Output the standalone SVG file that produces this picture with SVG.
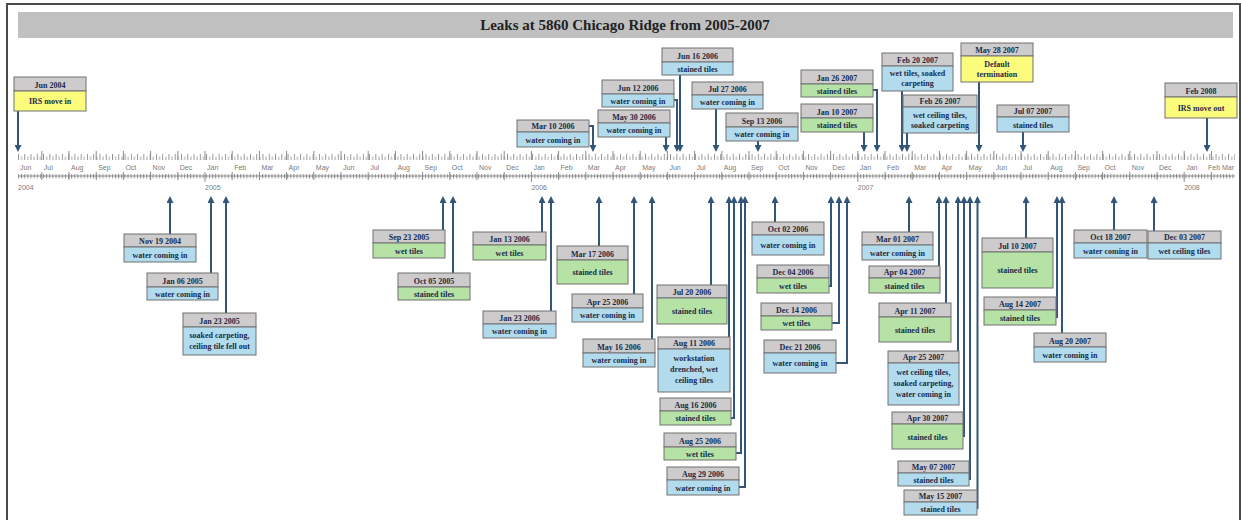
<svg xmlns="http://www.w3.org/2000/svg" width="1241" height="520" viewBox="0 0 1241 520">
<defs>
<style>
.hd{fill:#cdcbcb;stroke:#707070;stroke-width:1}
.bl{fill:#b2dcee;stroke:#707070;stroke-width:1}
.gr{fill:#b6e2a6;stroke:#707070;stroke-width:1}
.yl{fill:#fcfc7c;stroke:#707070;stroke-width:1}
.node text{font-family:"Liberation Serif","Times New Roman",serif;font-weight:bold;font-size:8px;fill:#1b2a48;text-anchor:middle}
.cn{stroke:#34557a;stroke-width:2;fill:none;marker-end:url(#ah)}
.ml{font-family:"Liberation Sans",Arial,sans-serif;font-size:7px;fill:#7a7a7a}
.tk{stroke:#8a8a8a;stroke-width:1;fill:none}
</style>
<marker id="ah" viewBox="0 0 7 7" refX="5" refY="3.5" markerWidth="7" markerHeight="7" markerUnits="userSpaceOnUse" orient="auto">
<path d="M0,0 L7,3.5 L0,7 z" fill="#34557a"/>
</marker>
<pattern id="tp" patternUnits="userSpaceOnUse" x="18" y="0" width="6.27" height="520">
<line x1="0.5" y1="154" x2="0.5" y2="160" stroke="#8a8a8a" stroke-width="0.9"/>
<line x1="3.6" y1="156.5" x2="3.6" y2="160" stroke="#9a9a9a" stroke-width="0.9"/>
</pattern>
<pattern id="rp" patternUnits="userSpaceOnUse" x="18" y="0" width="3.13" height="520">
<line x1="0.5" y1="174" x2="0.5" y2="178.5" stroke="#8a8a8a" stroke-width="0.9"/>
</pattern>
</defs>
<rect x="0" y="0" width="1241" height="520" fill="#ffffff"/>
<rect x="7" y="4" width="1233" height="530" fill="#ffffff" stroke="#4a4a4a" stroke-width="2"/>
<g id="title">
<rect x="18" y="12" width="1215" height="26" fill="#c0c0c0"/>
<text x="625" y="30" font-family="'Liberation Serif','Times New Roman',serif" font-weight="bold" font-size="15" fill="#222" text-anchor="middle">Leaks at 5860 Chicago Ridge from 2005-2007</text>
</g>
<g id="axis">
<rect x="18" y="153" width="1217" height="8" fill="url(#tp)"/>
<rect x="18" y="173" width="1217" height="6" fill="url(#rp)"/>
<line x1="18" y1="176" x2="1235" y2="176" stroke="#8a8a8a" stroke-width="1"/>
<path class="tk" d="M41.8,151V160M69,151V160M96.2,151V160M123.4,151V160M150.6,151V160M177.8,151V160M205,151V160M232.2,151V160M259.4,151V160M286.6,151V160M313.8,151V160M341,151V160M368.2,151V160M395.4,151V160M422.6,151V160M449.8,151V160M477,151V160M504.2,151V160M531.4,151V160M558.6,151V160M585.8,151V160M613,151V160M640.2,151V160M667.4,151V160M694.6,151V160M721.8,151V160M749,151V160M776.2,151V160M803.4,151V160M830.6,151V160M857.8,151V160M885,151V160M912.2,151V160M939.4,151V160M966.6,151V160M993.8,151V160M1021,151V160M1048.2,151V160M1075.4,151V160M1102.6,151V160M1129.8,151V160M1157,151V160M1184.2,151V160M1211.4,151V160"/>
<path class="tk" d="M41.8,172V180M69,172V180M96.2,172V180M123.4,172V180M150.6,172V180M177.8,172V180M205,172V182M232.2,172V180M259.4,172V180M286.6,172V180M313.8,172V180M341,172V180M368.2,172V180M395.4,172V180M422.6,172V180M449.8,172V180M477,172V180M504.2,172V180M531.4,172V182M558.6,172V180M585.8,172V180M613,172V180M640.2,172V180M667.4,172V180M694.6,172V180M721.8,172V180M749,172V180M776.2,172V180M803.4,172V180M830.6,172V180M857.8,172V182M885,172V180M912.2,172V180M939.4,172V180M966.6,172V180M993.8,172V180M1021,172V180M1048.2,172V180M1075.4,172V180M1102.6,172V180M1129.8,172V180M1157,172V180M1184.2,172V182M1211.4,172V180"/>
<g class="ml">
<text x="20" y="170">Jun</text><text x="43.8" y="170">Jul</text><text x="71" y="170">Aug</text><text x="98.2" y="170">Sep</text><text x="125.4" y="170">Oct</text><text x="152.6" y="170">Nov</text><text x="179.8" y="170">Dec</text>
<text x="207" y="170">Jan</text><text x="234.2" y="170">Feb</text><text x="261.4" y="170">Mar</text><text x="288.6" y="170">Apr</text><text x="315.8" y="170">May</text><text x="343" y="170">Jun</text><text x="370.2" y="170">Jul</text><text x="397.4" y="170">Aug</text><text x="424.6" y="170">Sep</text><text x="451.8" y="170">Oct</text><text x="479" y="170">Nov</text><text x="506.2" y="170">Dec</text>
<text x="533.4" y="170">Jan</text><text x="560.6" y="170">Feb</text><text x="587.8" y="170">Mar</text><text x="615" y="170">Apr</text><text x="642.2" y="170">May</text><text x="669.4" y="170">Jun</text><text x="696.6" y="170">Jul</text><text x="723.8" y="170">Aug</text><text x="751" y="170">Sep</text><text x="778.2" y="170">Oct</text><text x="805.4" y="170">Nov</text><text x="832.6" y="170">Dec</text>
<text x="859.8" y="170">Jan</text><text x="887" y="170">Feb</text><text x="914.2" y="170">Mar</text><text x="941.4" y="170">Apr</text><text x="968.6" y="170">May</text><text x="995.8" y="170">Jun</text><text x="1023" y="170">Jul</text><text x="1050.2" y="170">Aug</text><text x="1077.4" y="170">Sep</text><text x="1104.6" y="170">Oct</text><text x="1131.8" y="170">Nov</text><text x="1159" y="170">Dec</text>
<text x="1186.2" y="170">Jan</text><text x="1208" y="170">Feb</text><text x="1222" y="170">Mar</text>
<text x="18" y="190">2004</text><text x="205" y="190">2005</text><text x="531.4" y="190">2006</text><text x="857.8" y="190">2007</text><text x="1184.2" y="190">2008</text>
</g>
</g>
<g id="connectors">
<path class="cn" d="M18,111V150"/>
<path class="cn" d="M589,126H593V150"/>
<path class="cn" d="M666,137V150"/>
<path class="cn" d="M674,100H677V150"/>
<path class="cn" d="M680,75V150"/>
<path class="cn" d="M716,109V150"/>
<path class="cn" d="M758,141V150"/>
<path class="cn" d="M873,90H877V150"/>
<path class="cn" d="M864,132V150"/>
<path class="cn" d="M902,91V150"/>
<path class="cn" d="M907,133V150"/>
<path class="cn" d="M979,82V150"/>
<path class="cn" d="M1023,132V150"/>
<path class="cn" d="M1207,118V150"/>
<path class="cn" d="M170,234V198"/>
<path class="cn" d="M211,273V198"/>
<path class="cn" d="M226,313V198"/>
<path class="cn" d="M443,230V198"/>
<path class="cn" d="M453,273V198"/>
<path class="cn" d="M542,232V198"/>
<path class="cn" d="M551,311V198"/>
<path class="cn" d="M599,246V198"/>
<path class="cn" d="M634,294V198"/>
<path class="cn" d="M652,339V198"/>
<path class="cn" d="M711,285V198"/>
<path class="cn" d="M729,337V198"/>
<path class="cn" d="M731,418H734V198"/>
<path class="cn" d="M736,453H741V198"/>
<path class="cn" d="M739,487H745V198"/>
<path class="cn" d="M775,222V198"/>
<path class="cn" d="M829,286H831V198"/>
<path class="cn" d="M832,323H839V198"/>
<path class="cn" d="M836,363H847V198"/>
<path class="cn" d="M909,232V198"/>
<path class="cn" d="M939,266V198"/>
<path class="cn" d="M946,303V198"/>
<path class="cn" d="M958,351V198"/>
<path class="cn" d="M963,436H964V198"/>
<path class="cn" d="M969,479H970V198"/>
<path class="cn" d="M977,508H977.5V198"/>
<path class="cn" d="M1026,238V198"/>
<path class="cn" d="M1056,317H1057V198"/>
<path class="cn" d="M1062,333V198"/>
<path class="cn" d="M1114,230V198"/>
<path class="cn" d="M1154,231V198"/>
</g>
<g id="n01" class="node"><rect class="hd" x="14" y="77" width="72" height="14"/><rect class="yl" x="14" y="91" width="72" height="20"/><text x="50" y="87.5">Jun 2004</text><text x="50" y="104">IRS move in</text></g>
<g id="n02" class="node"><rect class="hd" x="517" y="120" width="72" height="12"/><rect class="bl" x="517" y="132" width="72" height="15"/><text x="553" y="129">Mar 10 2006</text><text x="553" y="142.5">water coming in</text></g>
<g id="n03" class="node"><rect class="hd" x="598" y="110" width="72" height="13"/><rect class="bl" x="598" y="123" width="72" height="14"/><text x="634" y="119.5">May 30 2006</text><text x="634" y="133">water coming in</text></g>
<g id="n04" class="node"><rect class="hd" x="602" y="80" width="72" height="14"/><rect class="bl" x="602" y="94" width="72" height="13"/><text x="638" y="90.5">Jun 12 2006</text><text x="638" y="103.5">water coming in</text></g>
<g id="n05" class="node"><rect class="hd" x="662" y="48" width="71" height="14"/><rect class="bl" x="662" y="62" width="71" height="13"/><text x="697.5" y="58.5">Jun 16 2006</text><text x="697.5" y="71.5">stained tiles</text></g>
<g id="n06" class="node"><rect class="hd" x="692" y="82" width="71" height="13"/><rect class="bl" x="692" y="95" width="71" height="14"/><text x="727.5" y="91.5">Jul 27 2006</text><text x="727.5" y="105">water coming in</text></g>
<g id="n07" class="node"><rect class="hd" x="726" y="113" width="72" height="14"/><rect class="bl" x="726" y="127" width="72" height="14"/><text x="762" y="123.5">Sep 13 2006</text><text x="762" y="137">water coming in</text></g>
<g id="n08" class="node"><rect class="hd" x="801" y="70" width="72" height="14"/><rect class="gr" x="801" y="84" width="72" height="13"/><text x="837" y="80.5">Jan 26 2007</text><text x="837" y="93.5">stained tiles</text></g>
<g id="n09" class="node"><rect class="hd" x="801" y="104" width="72" height="14"/><rect class="gr" x="801" y="118" width="72" height="14"/><text x="837" y="114.5">Jan 10 2007</text><text x="837" y="128">stained tiles</text></g>
<g id="n10" class="node"><rect class="hd" x="882" y="53" width="71" height="13"/><rect class="bl" x="882" y="66" width="71" height="25"/><text x="917.5" y="62.5">Feb 20 2007</text><text x="917.5" y="76">wet tiles, soaked</text><text x="917.5" y="86">carpeting</text></g>
<g id="n11" class="node"><rect class="hd" x="903" y="95" width="74" height="12"/><rect class="bl" x="903" y="107" width="74" height="26"/><text x="940" y="104">Feb 26 2007</text><text x="940" y="118">wet ceiling tiles,</text><text x="940" y="128">soaked carpeting</text></g>
<g id="n12" class="node"><rect class="hd" x="961" y="43" width="72" height="13"/><rect class="yl" x="961" y="56" width="72" height="26"/><text x="997" y="52.5">May 28 2007</text><text x="997" y="66.5">Default</text><text x="997" y="77">termination</text></g>
<g id="n13" class="node"><rect class="hd" x="997" y="105" width="72" height="12"/><rect class="bl" x="997" y="117" width="72" height="15"/><text x="1033" y="114">Jul 07 2007</text><text x="1033" y="127.5">stained tiles</text></g>
<g id="n14" class="node"><rect class="hd" x="1165" y="83" width="72" height="14"/><rect class="yl" x="1165" y="97" width="72" height="21"/><text x="1201" y="93.5">Feb 2008</text><text x="1201" y="110.5">IRS move out</text></g>
<g id="n15" class="node"><rect class="hd" x="124" y="234" width="72" height="13"/><rect class="bl" x="124" y="247" width="72" height="15"/><text x="160" y="243.5">Nov 19 2004</text><text x="160" y="257.5">water coming in</text></g>
<g id="n16" class="node"><rect class="hd" x="147" y="273" width="71" height="14"/><rect class="bl" x="147" y="287" width="71" height="13"/><text x="182.5" y="283.5">Jan 06 2005</text><text x="182.5" y="296.5">water coming in</text></g>
<g id="n17" class="node"><rect class="hd" x="183" y="313" width="73" height="14"/><rect class="bl" x="183" y="327" width="73" height="28"/><text x="219.5" y="323.5">Jan 23 2005</text><text x="219.5" y="338">soaked carpeting,</text><text x="219.5" y="349">ceiling tile fell out</text></g>
<g id="n18" class="node"><rect class="hd" x="373" y="230" width="72" height="13"/><rect class="gr" x="373" y="243" width="72" height="15"/><text x="409" y="239.5">Sep 23 2005</text><text x="409" y="253.5">wet tiles</text></g>
<g id="n19" class="node"><rect class="hd" x="398" y="273" width="72" height="14"/><rect class="gr" x="398" y="287" width="72" height="13"/><text x="434" y="283.5">Oct 05 2005</text><text x="434" y="296.5">stained tiles</text></g>
<g id="n20" class="node"><rect class="hd" x="473" y="232" width="73" height="13"/><rect class="gr" x="473" y="245" width="73" height="15"/><text x="509.5" y="241.5">Jan 13 2006</text><text x="509.5" y="255.5">wet tiles</text></g>
<g id="n21" class="node"><rect class="hd" x="483" y="311" width="73" height="13"/><rect class="bl" x="483" y="324" width="73" height="14"/><text x="519.5" y="320.5">Jan 23 2006</text><text x="519.5" y="334">water coming in</text></g>
<g id="n22" class="node"><rect class="hd" x="557" y="246" width="71" height="14"/><rect class="gr" x="557" y="260" width="71" height="24"/><text x="592.5" y="256.5">Mar 17 2006</text><text x="592.5" y="275">stained tiles</text></g>
<g id="n23" class="node"><rect class="hd" x="572" y="294" width="71" height="14"/><rect class="bl" x="572" y="308" width="71" height="14"/><text x="607.5" y="304.5">Apr 25 2006</text><text x="607.5" y="318">water coming in</text></g>
<g id="n24" class="node"><rect class="hd" x="583" y="339" width="72" height="14"/><rect class="bl" x="583" y="353" width="72" height="14"/><text x="619" y="349.5">May 16 2006</text><text x="619" y="363">water coming in</text></g>
<g id="n25" class="node"><rect class="hd" x="657" y="285" width="70" height="13"/><rect class="gr" x="657" y="298" width="70" height="26"/><text x="692" y="294.5">Jul 20 2006</text><text x="692" y="314">stained tiles</text></g>
<g id="n26" class="node"><rect class="hd" x="658" y="337" width="72" height="12"/><rect class="bl" x="658" y="349" width="72" height="43"/><text x="694" y="346">Aug 11 2006</text><text x="694" y="361">workstation</text><text x="694" y="372">drenched, wet</text><text x="694" y="383">ceiling tiles</text></g>
<g id="n27" class="node"><rect class="hd" x="660" y="398" width="71" height="13"/><rect class="gr" x="660" y="411" width="71" height="14"/><text x="695.5" y="407.5">Aug 16 2006</text><text x="695.5" y="421">stained tiles</text></g>
<g id="n28" class="node"><rect class="hd" x="664" y="433" width="72" height="14"/><rect class="gr" x="664" y="447" width="72" height="13"/><text x="700" y="443.5">Aug 25 2006</text><text x="700" y="456.5">wet tiles</text></g>
<g id="n29" class="node"><rect class="hd" x="667" y="467" width="72" height="13"/><rect class="bl" x="667" y="480" width="72" height="15"/><text x="703" y="476.5">Aug 29 2006</text><text x="703" y="490.5">water coming in</text></g>
<g id="n30" class="node"><rect class="hd" x="752" y="222" width="72" height="13"/><rect class="bl" x="752" y="235" width="72" height="20"/><text x="788" y="231.5">Oct 02 2006</text><text x="788" y="248">water coming in</text></g>
<g id="n31" class="node"><rect class="hd" x="757" y="265" width="72" height="13"/><rect class="gr" x="757" y="278" width="72" height="15"/><text x="793" y="274.5">Dec 04 2006</text><text x="793" y="288.5">wet tiles</text></g>
<g id="n32" class="node"><rect class="hd" x="761" y="303" width="71" height="13"/><rect class="gr" x="761" y="316" width="71" height="14"/><text x="796.5" y="312.5">Dec 14 2006</text><text x="796.5" y="326">wet tiles</text></g>
<g id="n33" class="node"><rect class="hd" x="764" y="340" width="72" height="13"/><rect class="bl" x="764" y="353" width="72" height="20"/><text x="800" y="349.5">Dec 21 2006</text><text x="800" y="366">water coming in</text></g>
<g id="n34" class="node"><rect class="hd" x="862" y="232" width="71" height="13"/><rect class="bl" x="862" y="245" width="71" height="15"/><text x="897.5" y="241.5">Mar 01 2007</text><text x="897.5" y="255.5">water coming in</text></g>
<g id="n35" class="node"><rect class="hd" x="869" y="266" width="71" height="12"/><rect class="gr" x="869" y="278" width="71" height="15"/><text x="904.5" y="275">Apr 04 2007</text><text x="904.5" y="288.5">stained tiles</text></g>
<g id="n36" class="node"><rect class="hd" x="879" y="303" width="72" height="14"/><rect class="gr" x="879" y="317" width="72" height="25"/><text x="915" y="313.5">Apr 11 2007</text><text x="915" y="332.5">stained tiles</text></g>
<g id="n37" class="node"><rect class="hd" x="888" y="351" width="71" height="12"/><rect class="bl" x="888" y="363" width="71" height="42"/><text x="923.5" y="360">Apr 25 2007</text><text x="923.5" y="375">wet ceiling tiles,</text><text x="923.5" y="386">soaked carpeting,</text><text x="923.5" y="397">water coming in</text></g>
<g id="n38" class="node"><rect class="hd" x="892" y="412" width="71" height="12"/><rect class="gr" x="892" y="424" width="71" height="25"/><text x="927.5" y="421">Apr 30 2007</text><text x="927.5" y="439.5">stained tiles</text></g>
<g id="n39" class="node"><rect class="hd" x="898" y="461" width="71" height="12"/><rect class="bl" x="898" y="473" width="71" height="13"/><text x="933.5" y="470">May 07 2007</text><text x="933.5" y="482.5">stained tiles</text></g>
<g id="n40" class="node"><rect class="hd" x="904" y="490" width="73" height="12"/><rect class="bl" x="904" y="502" width="73" height="13"/><text x="940.5" y="499">May 15 2007</text><text x="940.5" y="511.5">stained tiles</text></g>
<g id="n41" class="node"><rect class="hd" x="982" y="238" width="71" height="14"/><rect class="gr" x="982" y="252" width="71" height="36"/><text x="1017.5" y="248.5">Jul 10 2007</text><text x="1017.5" y="273">stained tiles</text></g>
<g id="n42" class="node"><rect class="hd" x="984" y="297" width="72" height="13"/><rect class="gr" x="984" y="310" width="72" height="15"/><text x="1020" y="306.5">Aug 14 2007</text><text x="1020" y="320.5">stained tiles</text></g>
<g id="n43" class="node"><rect class="hd" x="1034" y="333" width="72" height="14"/><rect class="bl" x="1034" y="347" width="72" height="15"/><text x="1070" y="343.5">Aug 20 2007</text><text x="1070" y="357.5">water coming in</text></g>
<g id="n44" class="node"><rect class="hd" x="1074" y="230" width="73" height="13"/><rect class="bl" x="1074" y="243" width="73" height="15"/><text x="1110.5" y="239.5">Oct 18 2007</text><text x="1110.5" y="253.5">water coming in</text></g>
<g id="n45" class="node"><rect class="hd" x="1148" y="231" width="73" height="12"/><rect class="bl" x="1148" y="243" width="73" height="16"/><text x="1184.5" y="240">Dec 03 2007</text><text x="1184.5" y="254">wet ceiling tiles</text></g>
</svg>
